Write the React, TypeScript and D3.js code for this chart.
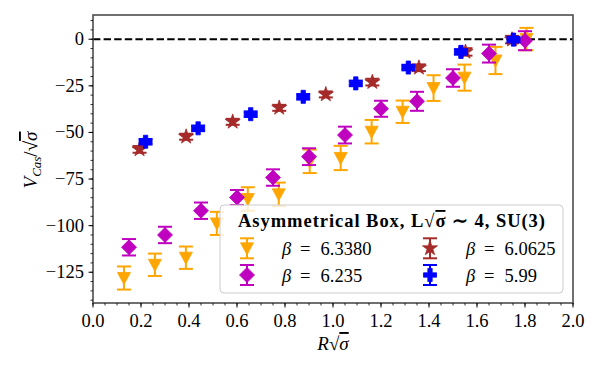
import React from "react";
import * as d3 from "d3";

const orangeX = [0.129, 0.258, 0.387, 0.516, 0.645, 0.774, 0.903, 1.032, 1.161, 1.29, 1.419, 1.548, 1.677, 1.806];
const orangeY = [-128.1, -121.0, -117.2, -98.8, -85.7, -83.2, -65.5, -63.7, -49.6, -38.9, -26.2, -20.6, -11.4, 0.1];
const orangeErr = [6.2, 6.0, 6.0, 6.2, 6.3, 6.3, 6.3, 6.5, 6.3, 6.0, 6.9, 7.0, 7.3, 6.0];

const magentaX = [0.15, 0.3, 0.45, 0.6, 0.75, 0.9, 1.05, 1.2, 1.35, 1.5, 1.65, 1.8];
const magentaY = [-111.6, -105.0, -92.0, -84.9, -74.2, -63.0, -51.4, -37.3, -33.3, -20.8, -7.7, -0.8];
const magentaErr = [4.4, 4.4, 4.4, 4.0, 4.4, 4.5, 4.5, 4.3, 5.1, 4.7, 4.8, 5.1];

const brownX = [0.194, 0.388, 0.582, 0.776, 0.97, 1.164, 1.358, 1.552, 1.746];
const brownY = [-59.1, -52.3, -44.3, -36.8, -29.6, -23.0, -15.3, -6.8, -0.2];
const brownErr = [1.8, 1.6, 1.6, 1.6, 1.6, 1.8, 1.8, 2.0, 2.0];

const blueX = [0.219, 0.438, 0.657, 0.876, 1.095, 1.314, 1.533, 1.752];
const blueY = [-55.0, -47.8, -40.2, -30.9, -23.7, -15.2, -6.8, -0.2];
const blueErr = [1.5, 1.5, 1.5, 1.5, 1.5, 1.5, 1.5, 1.5];

const xTicks = [0, 0.2, 0.4, 0.6, 0.8, 1.0, 1.2, 1.4, 1.6, 1.8, 2.0];
const yTicks = [-125, -100, -75, -50, -25, 0];

const betaLabels = ["6.3380", "6.235", "6.0625", "5.99"];

const W = 600, H = 370;
const M = { left: 93, right: 573, top: 15, bottom: 303 };

const x = d3.scaleLinear().domain([0, 2]).range([M.left, M.right]);
const y = d3.scaleLinear().domain([-141.5, 13]).range([M.bottom, M.top]);

const FONT = "'Times New Roman', 'Liberation Serif', serif";

type Series = { xs: number[]; ys: number[]; es: number[]; color: string; marker: string; label: string };

const series: Series[] = [
  { xs: orangeX, ys: orangeY, es: orangeErr, color: "#ffa500", marker: "v", label: betaLabels[0] },
  { xs: magentaX, ys: magentaY, es: magentaErr, color: "#bf00bf", marker: "D", label: betaLabels[1] },
  { xs: brownX, ys: brownY, es: brownErr, color: "#a52a2a", marker: "*", label: betaLabels[2] },
  { xs: blueX, ys: blueY, es: blueErr, color: "#0000ff", marker: "P", label: betaLabels[3] },
];

function markerPath(m: string): string {
  if (m === "v") return "M-6.5,-5.5L6.5,-5.5L0,6.5Z";
  if (m === "D") return "M0,-7.5L7.5,0L0,7.5L-7.5,0Z";
  if (m === "*") return d3.symbol(d3.symbolStar, 70)() as string;
  return d3.symbol(d3.symbolCross, 95)() as string;
}

function ErrPoint({ cx, cy, top, bot, color, marker }: any) {
  const cap = 7;
  return (
    <g>
      <line x1={cx} x2={cx} y1={top} y2={bot} stroke={color} strokeWidth={2} />
      <line x1={cx - cap} x2={cx + cap} y1={top} y2={top} stroke={color} strokeWidth={2} />
      <line x1={cx - cap} x2={cx + cap} y1={bot} y2={bot} stroke={color} strokeWidth={2} />
      <path d={markerPath(marker)} transform={`translate(${cx},${cy})`} fill={color} stroke={color} strokeWidth={0.8} strokeLinejoin="round" />
    </g>
  );
}

function Sqrt({ children }: any) {
  return (
    <>
      <tspan>√</tspan>
      <tspan style={{ textDecoration: "overline" }}>{children}</tspan>
    </>
  );
}

export default function App() {
  const xMinor = d3.range(0, 2.0001, 0.05);
  const yMinor = d3.range(-140, 13, 5);
  return (
    <svg width={W} height={H} fontFamily={FONT} style={{ position: "absolute", left: 0, top: 0, background: "#fff", fontFamily: FONT }}>
      <rect x={0} y={0} width={W} height={H} fill="#fff" />
      <line x1={M.left} x2={M.right} y1={y(0)} y2={y(0)} stroke="#000" strokeWidth={2} strokeDasharray="7.4,3.2" />
      {series.map((s, si) => (
        <g key={si}>
          {s.xs.map((xv, i) => (
            <ErrPoint
              key={i}
              cx={x(xv)}
              cy={y(s.ys[i])}
              top={y(s.ys[i] + s.es[i])}
              bot={y(s.ys[i] - s.es[i])}
              color={s.color}
              marker={s.marker}
            />
          ))}
        </g>
      ))}
      <rect x={M.left} y={M.top} width={M.right - M.left} height={M.bottom - M.top} fill="none" stroke="#4d4d4d" strokeWidth={1.6} />
      {xMinor.map((t, i) => (
        <line key={"xm" + i} x1={x(t)} x2={x(t)} y1={M.bottom} y2={M.bottom + 2.5} stroke="#000" strokeWidth={0.8} />
      ))}
      {xTicks.map((t, i) => (
        <g key={"xt" + i}>
          <line x1={x(t)} x2={x(t)} y1={M.bottom} y2={M.bottom + 4.5} stroke="#000" strokeWidth={1} />
          <text x={x(t)} y={327} textAnchor="middle" fontSize={18.5}>
            {d3.format(".1f")(t)}
          </text>
        </g>
      ))}
      {yMinor.map((t, i) => (
        <line key={"ym" + i} x1={M.left} x2={M.left - 2.5} y1={y(t)} y2={y(t)} stroke="#000" strokeWidth={0.8} />
      ))}
      {yTicks.map((t, i) => (
        <g key={"yt" + i}>
          <line x1={M.left} x2={M.left - 4.5} y1={y(t)} y2={y(t)} stroke="#000" strokeWidth={1} />
          <text x={84} y={y(t) + 6} textAnchor="end" fontSize={18.5}>
            {t < 0 ? "\u2212" + Math.abs(t) : String(t)}
          </text>
        </g>
      ))}
      <text x={333} y={350} textAnchor="middle" fontSize={19}>
        <tspan fontStyle="italic">R</tspan>
        <Sqrt>
          <tspan fontStyle="italic">σ</tspan>
        </Sqrt>
      </text>
      <text transform="translate(37,160) rotate(-90)" textAnchor="middle" fontSize={19}>
        <tspan fontStyle="italic">V</tspan>
        <tspan fontStyle="italic" fontSize={13} dy={4}>Cas</tspan>
        <tspan dy={-4}>/</tspan>
        <Sqrt>
          <tspan fontStyle="italic">σ</tspan>
        </Sqrt>
      </text>
      <rect x={220} y={205} width={343} height={88} rx={4} fill="#fff" fillOpacity={0.8} stroke="#cccccc" strokeWidth={1} />
      <text x={238} y={227} fontSize={18.5} fontWeight="bold" textLength={307} lengthAdjust="spacing">
        {"Asymmetrical Box, L"}
        <Sqrt>σ</Sqrt>
        {" ∼ 4, SU(3)"}
      </text>
      {series.map((s, si) => {
        const col = si < 2 ? 0 : 1;
        const row = si % 2;
        const mx = col === 0 ? 247 : 430;
        const tx = col === 0 ? 282 : 466;
        const cy = row === 0 ? 248.3 : 275;
        return (
          <g key={"lg" + si}>
            <ErrPoint cx={mx} cy={cy} top={cy - 10} bot={cy + 10} color={s.color} marker={s.marker} />
            <text y={cy + 6.5} fontSize={18.5}>
              <tspan x={tx} fontStyle="italic">β</tspan>
              <tspan x={tx + 18}>=</tspan>
              <tspan x={tx + 38.5}>{s.label}</tspan>
            </text>
          </g>
        );
      })}
    </svg>
  );
}
